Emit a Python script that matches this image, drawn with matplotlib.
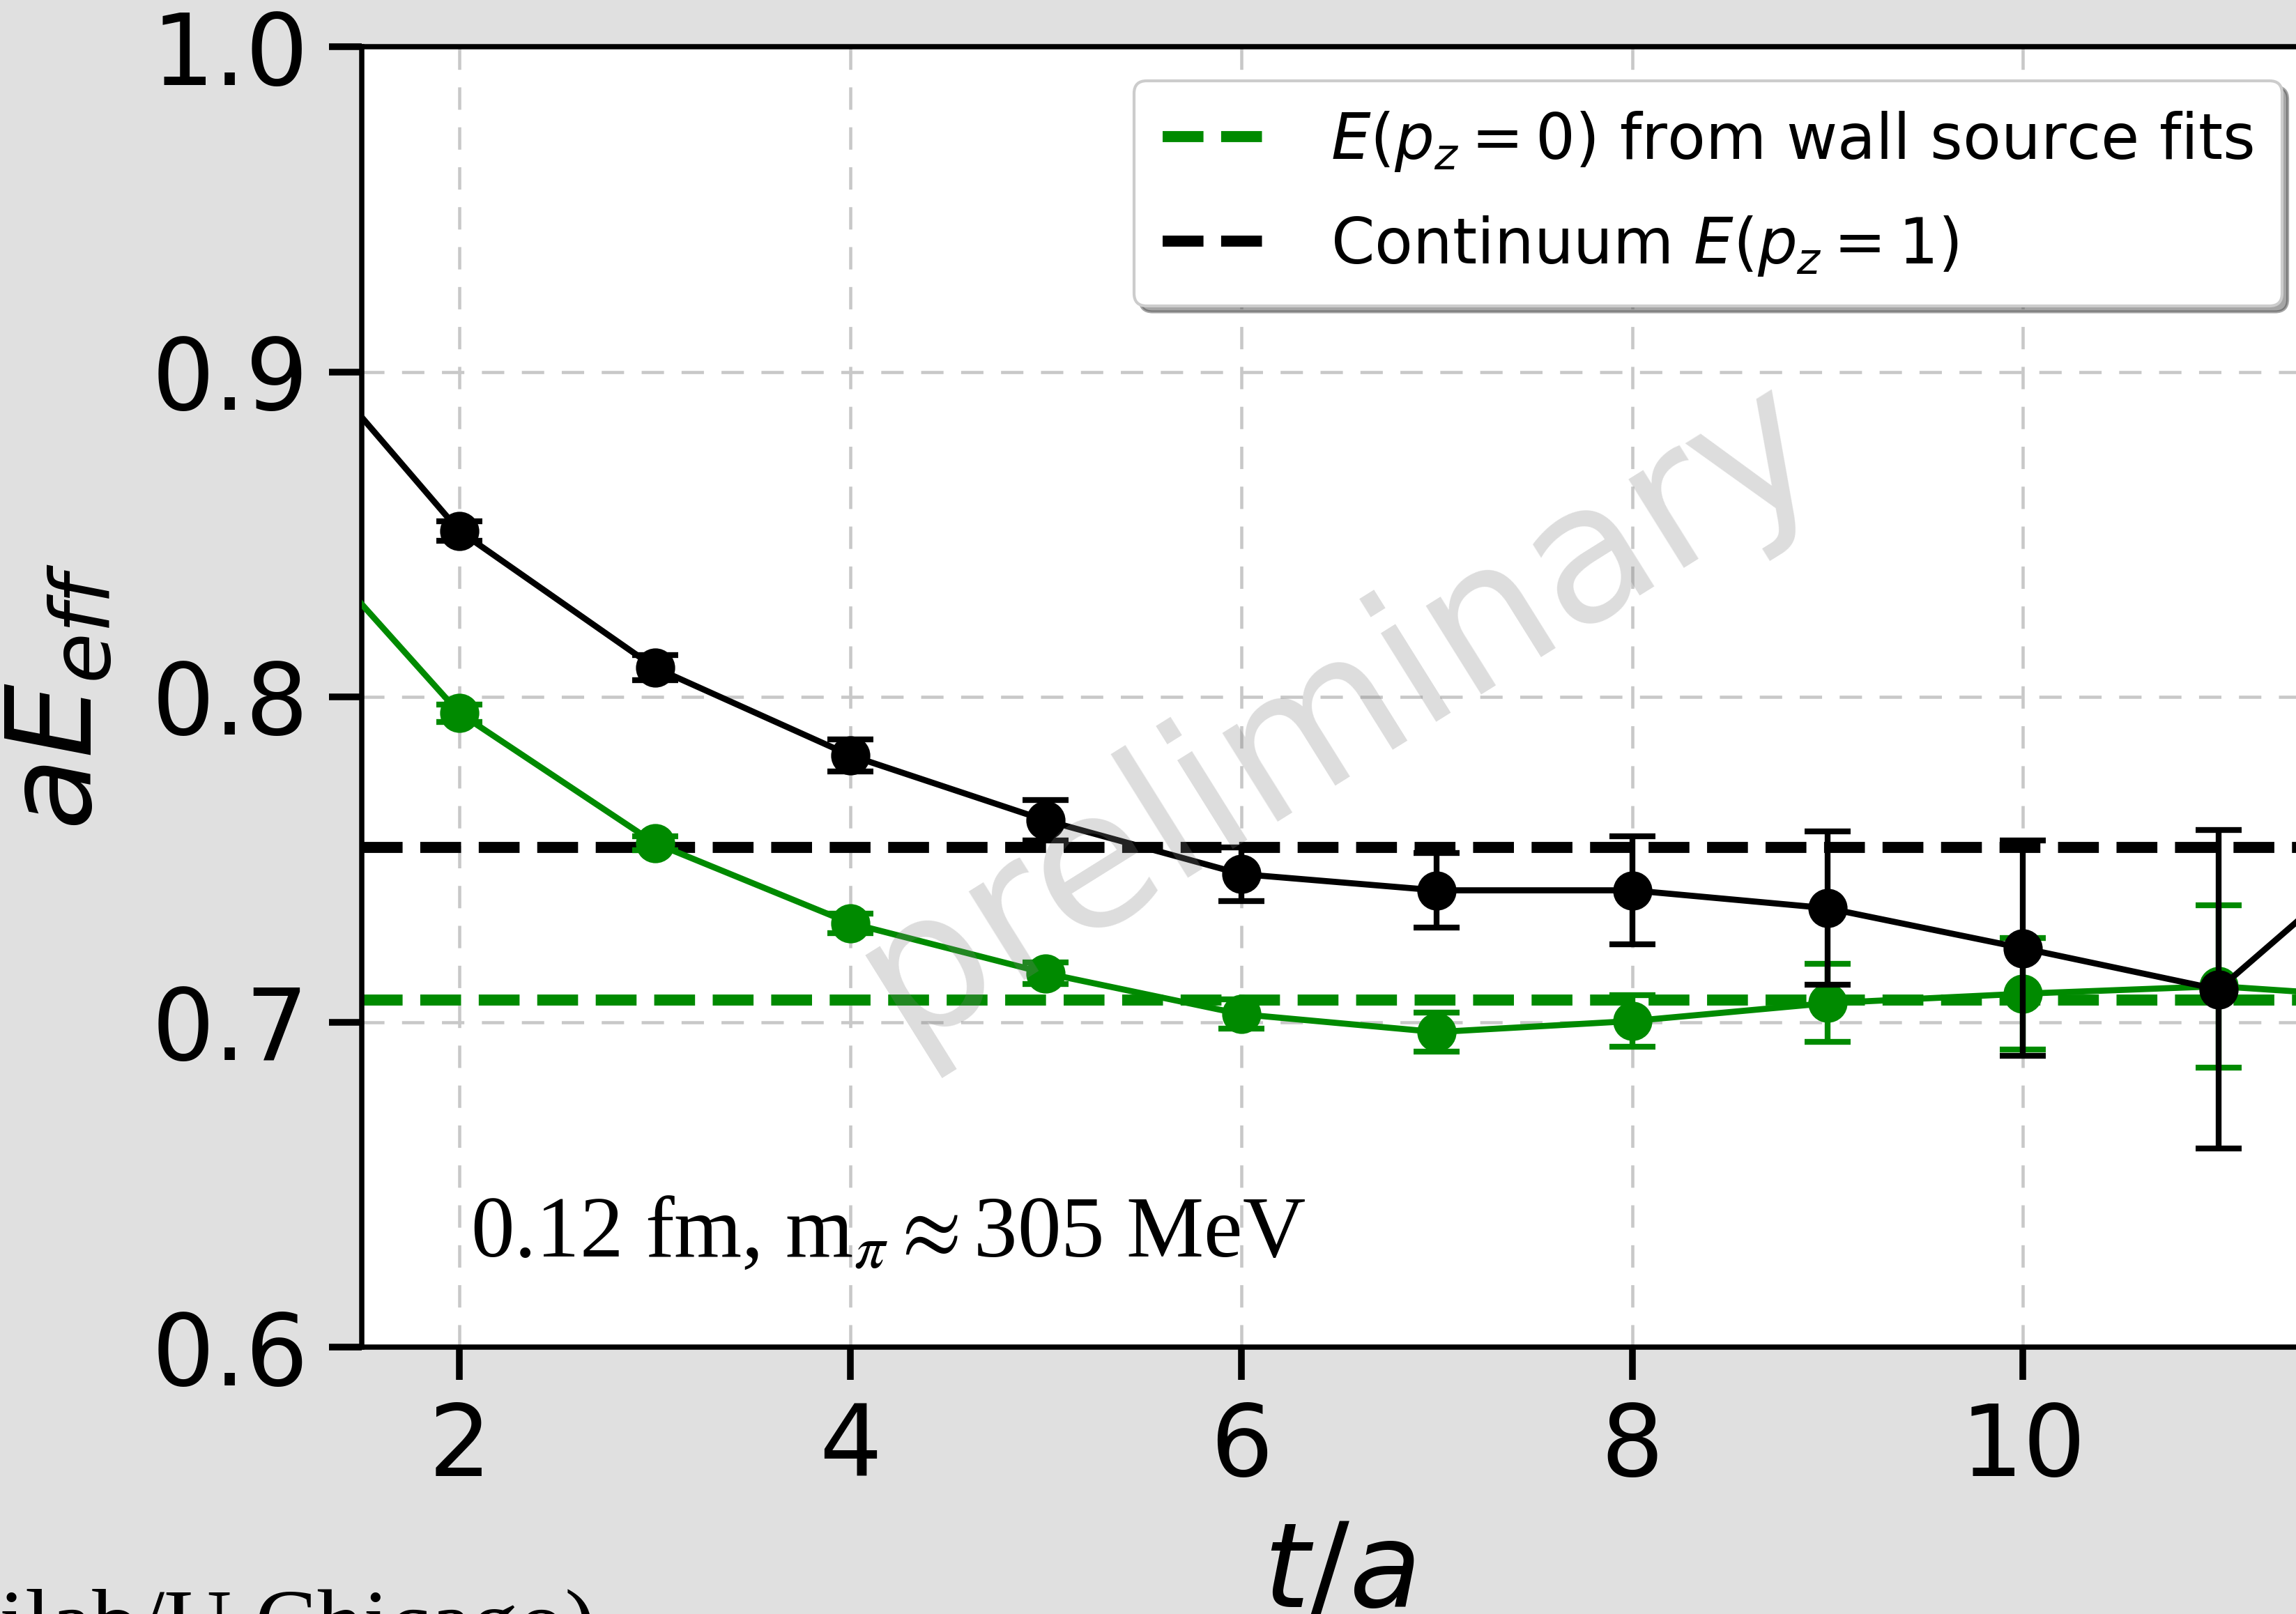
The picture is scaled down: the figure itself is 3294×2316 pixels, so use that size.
import matplotlib
matplotlib.use("Agg")
import matplotlib.pyplot as plt

# ---- data ----
t_vals = [1, 2, 3, 4, 5, 6, 7, 8, 9, 10, 11, 12]
black_E = [0.921, 0.851, 0.809, 0.782, 0.762, 0.7455, 0.7405, 0.7405, 0.735, 0.7227, 0.710, 0.762]
black_err = [0.003, 0.003, 0.0038, 0.005, 0.0062, 0.0083, 0.0115, 0.0166, 0.0236, 0.0332, 0.049, 0.06]
green_E = [0.862, 0.795, 0.755, 0.7304, 0.715, 0.7024, 0.6969, 0.7003, 0.7058, 0.7087, 0.711, 0.707]
green_err = [0.003, 0.0027, 0.0022, 0.003, 0.0034, 0.0045, 0.006, 0.008, 0.012, 0.0172, 0.025, 0.035]
E_wall_p0 = 0.7068
E_cont_p1 = 0.7537
x_ticks = [2, 4, 6, 8, 10]
y_ticks = [0.6, 0.7, 0.8, 0.9, 1.0]
legend_labels = [r"$E(p_z=0)$ from wall source fits", r"Continuum $E(p_z=1)$"]
annot_text = r"0.12 fm, m$_{\pi}\approx$305 MeV"
credit_text = "(Fermilab/U Chicago)"
watermark = "preliminary"

GREEN = "#008a00"

fig = plt.figure(figsize=(3294 / 300, 2316 / 300), dpi=300, facecolor="#e0e0e0")
ax = fig.add_axes([519 / 3294, 1 - 1933 / 2316, (3323 - 519) / 3294, (1933 - 67) / 2316])
ax.set_facecolor("white")

l1 = ax.axhline(E_wall_p0, color=GREEN, lw=3.8, ls="--", zorder=2, label=legend_labels[0])
l2 = ax.axhline(E_cont_p1, color="black", lw=3.8, ls="--", zorder=2, label=legend_labels[1])

ax.errorbar(t_vals, green_E, yerr=green_err, fmt="o-", color=GREEN, ms=12.5, lw=2.1,
            elinewidth=2.0, capsize=8, capthick=2.0, zorder=3)
ax.errorbar(t_vals, black_E, yerr=black_err, fmt="o-", color="black", ms=12.5, lw=2.1,
            elinewidth=2.0, capsize=8, capthick=2.0, zorder=4)

ax.set_xlim(1.5, 11.5)
ax.set_ylim(0.6, 1.0)
ax.set_xticks(x_ticks)
ax.set_yticks(y_ticks)
ax.set_yticklabels([f"{v:.1f}" for v in y_ticks])
ax.tick_params(axis="both", which="major", labelsize=34, length=11.3, width=2.3,
               direction="out", pad=7)
ax.grid(True, color="#c8c8c8", lw=1.1, ls=(0, (7, 5.5)))
ax.set_axisbelow(True)
for s in ["left", "bottom", "top", "right"]:
    ax.spines[s].set_linewidth(1.8)
    ax.spines[s].set_color("black")

ax.set_xlabel(r"$t/a$", fontsize=40.5, labelpad=7)
ax.set_ylabel(r"$aE_{eff}$", fontsize=40.5, labelpad=12)

leg = ax.legend(handles=[l1, l2], loc="upper right", fontsize=21.5, shadow=True, fancybox=True,
                framealpha=1, edgecolor="#cccccc", handlelength=1.7, handletextpad=1.0,
                borderpad=0.45, labelspacing=0.65, borderaxespad=0.55)
leg.set_zorder(10)

ax.text(0.5, 0.49, watermark, transform=ax.transAxes, fontsize=66, color="gray",
        alpha=0.27, rotation=32, ha="center", va="center", zorder=6)

ax.text(675, 2316 - 1803, annot_text, transform=None, fontsize=30,
        family="Liberation Serif", math_fontfamily="stix", ha="left", va="baseline", zorder=7)
fig.text(855 / 3294, 1 - 2373 / 2316, credit_text, fontsize=32, family="Liberation Serif",
         ha="right", va="baseline")

fig.savefig("out.png", dpi=300, facecolor=fig.get_facecolor())
